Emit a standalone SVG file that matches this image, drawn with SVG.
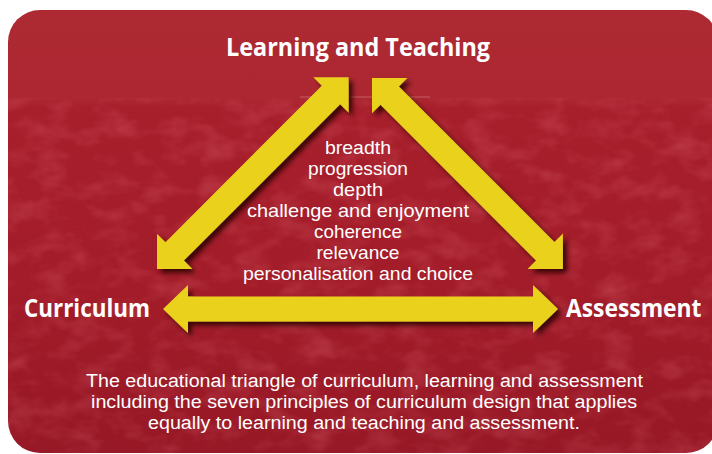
<svg xmlns="http://www.w3.org/2000/svg" width="712" height="454" viewBox="0 0 712 454">
  <defs>
    <linearGradient id="bg" x1="0" y1="0" x2="0" y2="1">
      <stop offset="0" stop-color="#AE2A33"/>
      <stop offset="0.2" stop-color="#AC2731"/>
      <stop offset="0.22" stop-color="#A81F2C"/>
      <stop offset="0.6" stop-color="#A31C29"/>
      <stop offset="1" stop-color="#971826"/>
    </linearGradient>
    <filter id="tex" x="0" y="0" width="1" height="1">
      <feTurbulence type="fractalNoise" baseFrequency="0.03 0.05" numOctaves="3" seed="7" result="n"/>
      <feColorMatrix in="n" type="matrix" values="0 0 0 0 0.78  0 0 0 0 0.16  0 0 0 0 0.2  0 0 0 1.3 -0.55" result="c"/>
      <feComposite in="c" in2="SourceGraphic" operator="in"/>
    </filter>
    <filter id="shadow" x="-20%" y="-20%" width="140%" height="140%">
      <feDropShadow dx="4" dy="4" stdDeviation="2.5" flood-color="#2a0406" flood-opacity="0.85"/>
    </filter>
    <clipPath id="card">
      <rect x="8" y="10" width="710" height="443" rx="32" ry="32"/>
    </clipPath>
  </defs>
  <style>
    .arrow { fill: #E9D11F; }
    .node { font-family: "Open Sans", "Liberation Sans", sans-serif; font-weight: bold; fill: #ffffff; font-size: 25px; }
    .principle { font-family: "Liberation Sans", Arial, sans-serif; fill: #ffffff; font-size: 18.5px; text-anchor: middle; }
    .caption { font-family: "Liberation Sans", Arial, sans-serif; fill: #ffffff; font-size: 18px; text-anchor: middle; }
  </style>

  <g id="background">
    <rect x="8" y="10" width="710" height="443" rx="32" ry="32" fill="url(#bg)"/>
    <g clip-path="url(#card)">
      <rect x="8" y="98" width="710" height="356" fill="#A31C29" filter="url(#tex)" opacity="0.45"/>
      <line x1="300" y1="97" x2="430" y2="97" stroke="#d98088" stroke-width="1.2" opacity="0.6"/>
    </g>
  </g>

  <g id="connectors" filter="url(#shadow)">
    <polygon id="arrow-curriculum-learning" class="arrow" transform="translate(157,269) rotate(-45)"
      points="0,0 25,-25 25,-13 246,-13 246,-25 271,0 246,25 246,13 25,13 25,25"/>
    <polygon id="arrow-learning-assessment" class="arrow" transform="translate(372,78) rotate(45)"
      points="0,0 25,-25 25,-13 245,-13 245,-25 270,0 245,25 245,13 25,13 25,25"/>
    <polygon id="arrow-curriculum-assessment" class="arrow" transform="translate(163,309)"
      points="0,0 25,-24 25,-12.5 370,-12.5 370,-24 395,0 370,24 370,12.5 25,12.5 25,24"/>
  </g>

  <g id="node-learning">
    <text class="node" x="358" y="56" text-anchor="middle" textLength="264" lengthAdjust="spacingAndGlyphs">Learning and Teaching</text>
  </g>
  <g id="node-curriculum">
    <text class="node" x="24" y="317" textLength="126" lengthAdjust="spacingAndGlyphs">Curriculum</text>
  </g>
  <g id="node-assessment">
    <text class="node" transform="translate(566,317) scale(0.88,1)" x="0" y="0" textLength="154" lengthAdjust="spacingAndGlyphs">Assessment</text>
  </g>

  <g id="principles">
    <text class="principle" x="358" y="154" textLength="66" lengthAdjust="spacingAndGlyphs">breadth</text>
    <text class="principle" x="358" y="175" textLength="100" lengthAdjust="spacingAndGlyphs">progression</text>
    <text class="principle" x="358" y="196" textLength="50" lengthAdjust="spacingAndGlyphs">depth</text>
    <text class="principle" x="358" y="217" textLength="222" lengthAdjust="spacingAndGlyphs">challenge and enjoyment</text>
    <text class="principle" x="358" y="238" textLength="88" lengthAdjust="spacingAndGlyphs">coherence</text>
    <text class="principle" x="358" y="259" textLength="83" lengthAdjust="spacingAndGlyphs">relevance</text>
    <text class="principle" x="358" y="280" textLength="230" lengthAdjust="spacingAndGlyphs">personalisation and choice</text>
  </g>

  <g id="caption">
    <text class="caption" x="364.5" y="387" textLength="557" lengthAdjust="spacingAndGlyphs">The educational triangle of curriculum, learning and assessment</text>
    <text class="caption" x="364" y="408" textLength="546" lengthAdjust="spacingAndGlyphs">including the seven principles of curriculum design that applies</text>
    <text class="caption" x="364" y="429" textLength="432" lengthAdjust="spacingAndGlyphs">equally to learning and teaching and assessment.</text>
  </g>
</svg>
